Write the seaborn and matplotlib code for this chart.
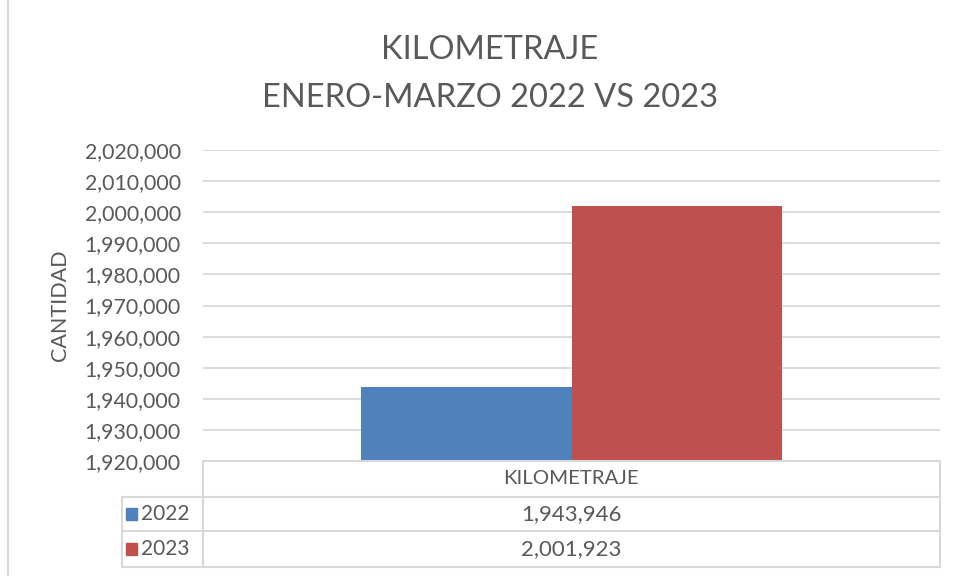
import matplotlib
matplotlib.use("Agg")
import matplotlib.pyplot as plt
import seaborn as sns
import pandas as pd
from matplotlib.lines import Line2D
from matplotlib.patches import Rectangle
from matplotlib.ticker import FuncFormatter

categories = ["KILOMETRAJE"]
years = ["2022", "2023"]
values_2022 = [1943946]
values_2023 = [2001923]
colors = ["#4F81BD", "#C0504D"]
title = "KILOMETRAJE\nENERO-MARZO 2022 VS 2023"
ylabel = "CANTIDAD"

df = pd.DataFrame({
    "cat": categories * 2,
    "year": [years[0]] * len(categories) + [years[1]] * len(categories),
    "val": values_2022 + values_2023,
})

sns.set_theme(style="white")
plt.rcParams["font.family"] = ["Lato", "DejaVu Sans"]
TXT = "#595959"
GRID = "#D9D9D9"

W, H = 957, 576
fig = plt.figure(figsize=(W / 100, H / 100), dpi=100)
L, R, T, B = 203, 940, 150, 461
ax = fig.add_axes([L / W, 1 - B / H, (R - L) / W, (B - T) / H])

sns.barplot(data=df, x="cat", y="val", hue="year", palette=colors, width=0.57,
            ax=ax, legend=False, saturation=1, linewidth=0, edgecolor="none")
ax.set_xlim(-0.5, 0.5)
ax.set_ylim(1920000, 2020000)
ax.set_yticks(range(1920000, 2020001, 10000))
ax.yaxis.set_major_formatter(FuncFormatter(lambda v, p: f"{int(v):,}"))
ax.tick_params(axis="y", labelsize=15.3, colors=TXT, length=0, pad=16)
ax.set_xticks([])
ax.set_xlabel("")
ax.set_ylabel("")
ax.grid(axis="y", color=GRID, linewidth=1.3)
ax.set_axisbelow(True)
for s in ax.spines.values():
    s.set_visible(False)

# title and y label
lines = title.split("\n")
fig.text(490 / W, 1 - 50 / H, lines[0], ha="center", va="center", fontsize=23.5, color=TXT)
fig.text(490 / W, 1 - 98 / H, lines[1], ha="center", va="center", fontsize=23.5, color=TXT)
fig.text(60 / W, 1 - 305 / H, ylabel, rotation=90, ha="center", va="center", fontsize=15.5, color=TXT)

# outer border line
fig.add_artist(Line2D([8 / W, 8 / W], [0, 1], color=GRID, lw=1.5))

def hl(x0, x1, y):
    fig.add_artist(Line2D([x0 / W, x1 / W], [1 - y / H, 1 - y / H], color=GRID, lw=1.5))

def vl(x, y0, y1):
    fig.add_artist(Line2D([x / W, x / W], [1 - y0 / H, 1 - y1 / H], color=GRID, lw=1.5))

# data table
hl(L, R, B)
hl(122, R, 497)
hl(122, R, 531)
hl(122, R, 567)
vl(L, B, 567)
vl(R, B, 567)
vl(122, 497, 567)

fig.text(571 / W, 1 - 479 / H, categories[0], ha="center", va="center", fontsize=14.7, color=TXT)
rows = [(years[0], values_2022[0], colors[0], 514), (years[1], values_2023[0], colors[1], 549)]
for lab, v, c, y in rows:
    fig.add_artist(Rectangle((126 / W, 1 - (y + 6) / H), 11 / W, 12 / H, color=c))
    fig.text(141 / W, 1 - y / H, lab, ha="left", va="center", fontsize=15, color=TXT)
    fig.text(571 / W, 1 - y / H, f"{v:,}", ha="center", va="center", fontsize=16, color=TXT)

fig.savefig("out.png", dpi=100, facecolor="white")
